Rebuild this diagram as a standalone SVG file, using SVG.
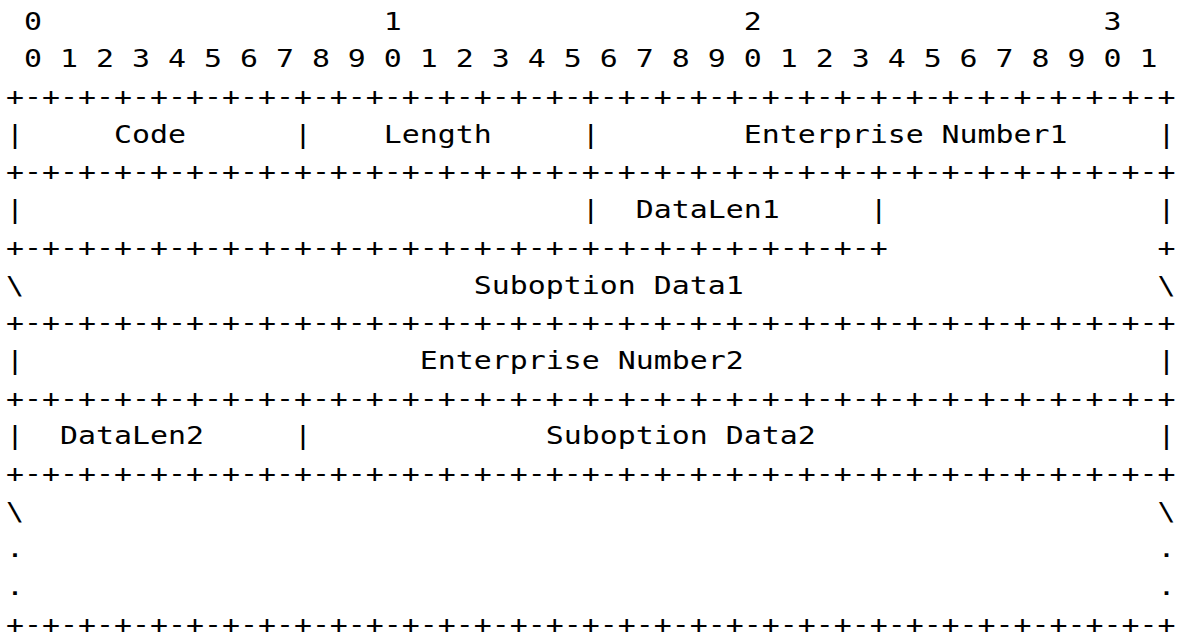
<svg xmlns="http://www.w3.org/2000/svg" width="1186" height="636" viewBox="0 0 1186 636" xml:space="preserve">
<style>
.t{font-family:"DejaVu Sans Mono","Liberation Mono",monospace;font-size:25px;fill:#000;white-space:pre}
</style>
<rect width="1186" height="636" fill="#fff"/>
<g transform="translate(6,0) scale(1.1959,1)">
<g id="ruler">
<text class="t" x="0" y="29.7"> 0                   1                   2                   3</text>
<text class="t" x="0" y="67.4"> 0 1 2 3 4 5 6 7 8 9 0 1 2 3 4 5 6 7 8 9 0 1 2 3 4 5 6 7 8 9 0 1</text>
</g>
<g id="row1">
<text class="t" x="0" y="105.1">+-+-+-+-+-+-+-+-+-+-+-+-+-+-+-+-+-+-+-+-+-+-+-+-+-+-+-+-+-+-+-+-+</text>
<text class="t" x="0" y="142.8">|     Code      |    Length     |        Enterprise Number1     |</text>
<text class="t" x="0" y="180.5">+-+-+-+-+-+-+-+-+-+-+-+-+-+-+-+-+-+-+-+-+-+-+-+-+-+-+-+-+-+-+-+-+</text>
</g>
<g id="row2">
<text class="t" x="0" y="218.2">|                               |  DataLen1     |               |</text>
<text class="t" x="0" y="255.9">+-+-+-+-+-+-+-+-+-+-+-+-+-+-+-+-+-+-+-+-+-+-+-+-+               +</text>
<text class="t" x="0" y="293.6">\                         Suboption Data1                       \</text>
<text class="t" x="0" y="331.3">+-+-+-+-+-+-+-+-+-+-+-+-+-+-+-+-+-+-+-+-+-+-+-+-+-+-+-+-+-+-+-+-+</text>
</g>
<g id="row3">
<text class="t" x="0" y="369.0">|                      Enterprise Number2                       |</text>
<text class="t" x="0" y="406.7">+-+-+-+-+-+-+-+-+-+-+-+-+-+-+-+-+-+-+-+-+-+-+-+-+-+-+-+-+-+-+-+-+</text>
</g>
<g id="row4">
<text class="t" x="0" y="444.4">|  DataLen2     |             Suboption Data2                   |</text>
<text class="t" x="0" y="482.1">+-+-+-+-+-+-+-+-+-+-+-+-+-+-+-+-+-+-+-+-+-+-+-+-+-+-+-+-+-+-+-+-+</text>
</g>
<g id="row5">
<text class="t" x="0" y="519.8">\                                                               \</text>
<text class="t" x="0" y="557.5">.                                                               .</text>
<text class="t" x="0" y="595.2">.                                                               .</text>
<text class="t" x="0" y="632.9">+-+-+-+-+-+-+-+-+-+-+-+-+-+-+-+-+-+-+-+-+-+-+-+-+-+-+-+-+-+-+-+-+</text>
</g>
</g>
</svg>
